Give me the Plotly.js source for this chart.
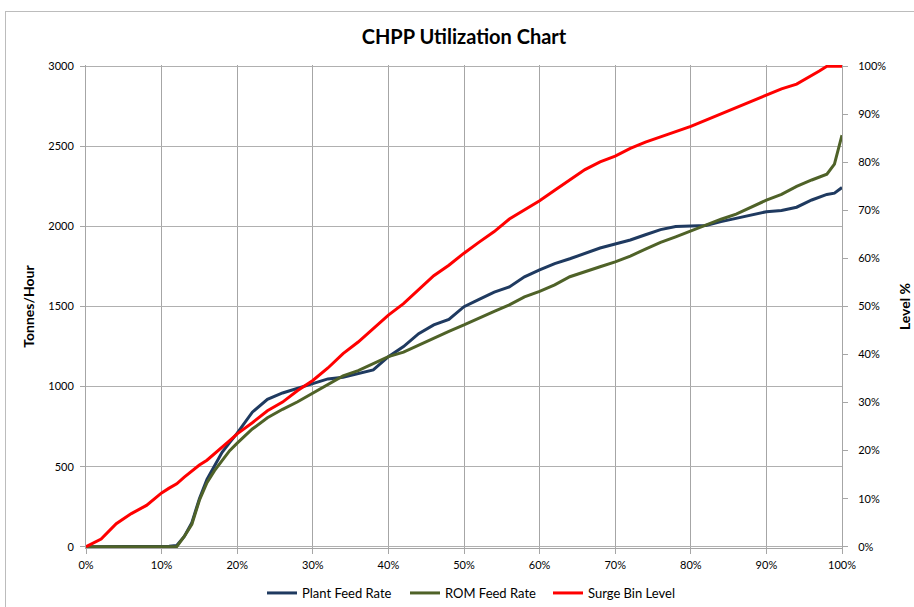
<!DOCTYPE html>
<html>
<head>
<meta charset="utf-8">
<script src="https://cdn.plot.ly/plotly-3.0.1.min.js"></script>
<style>
  html, body { margin: 0; padding: 0; background: #fff; }
  #wrap { position: relative; width: 914px; height: 607px; overflow: hidden; }
  #chart { width: 914px; height: 607px; }
  #frame { position: absolute; left: 5px; top: 11px; width: 940px; height: 640px;
           border-left: 1px solid #bcbcbc; border-top: 1px solid #bcbcbc; pointer-events: none; }
</style>
</head>
<body>
<div id="wrap"><div id="chart"></div><div id="frame"></div></div>
<script>
// Time / duration (% of period)
const timePct = [0,2,4,6,8,10,11,12,13,14,15,16,17,18,19,20,22,24,26,28,30,32,34,36,38,40,42,44,46,48,50,52,54,56,58,60,62,64,66,68,70,72,74,76,78,80,82,84,86,88,90,92,94,96,97,98,99,100];

// Plant Feed Rate (tonnes/hour)
const plantFeedRate = [0,0,0,0,0,0,3,8,64,150,300,420,510,590,650,709,840,920,960,990,1020,1048,1058,1082,1104,1187,1250,1330,1385,1420,1499,1545,1590,1622,1685,1728,1768,1798,1830,1865,1890,1915,1948,1980,2000,2002,2006,2030,2050,2074,2092,2100,2120,2165,2185,2200,2208,2243];

// ROM Feed Rate (tonnes/hour)
const romFeedRate = [0,0,0,0,0,0,0,0,64,140,290,400,475,540,600,647,735,805,858,905,959,1015,1067,1100,1141,1187,1215,1260,1300,1345,1385,1430,1470,1510,1560,1595,1635,1686,1715,1748,1779,1815,1858,1900,1935,1973,2010,2045,2077,2123,2164,2200,2250,2290,2310,2326,2389,2570];

// Surge Bin Level (%)
const surgeBinLevel = [0,1.6,4.8,6.9,8.6,11.2,12.2,13.1,14.5,15.8,17.0,18.0,19.3,20.7,22.1,23.5,25.8,28.3,30.1,32.5,34.6,37.2,40.2,42.6,45.5,48.2,50.6,53.5,56.4,58.6,61.1,63.4,65.6,68.2,70.1,72.0,74.2,76.3,78.5,80.1,81.3,82.9,84.2,85.3,86.4,87.5,88.8,90.1,91.3,92.6,94.0,95.3,96.3,98.0,99.0,100,100,100];

const seriesNames = ['Plant Feed Rate', 'ROM Feed Rate', 'Surge Bin Level'];
const chartTitle = 'CHPP Utilization Chart';
const leftTitle = 'Tonnes/Hour';
const rightTitle = 'Level %';

const FONT = 'Lato, "Open Sans", "DejaVu Sans", sans-serif';

const traces = [
  { x: timePct, y: plantFeedRate, name: seriesNames[0], type: 'scatter', mode: 'lines',
    line: { color: '#1F3A60', width: 3 }, yaxis: 'y' },
  { x: timePct, y: romFeedRate, name: seriesNames[1], type: 'scatter', mode: 'lines',
    line: { color: '#4F6228', width: 3 }, yaxis: 'y' },
  { x: timePct, y: surgeBinLevel, name: seriesNames[2], type: 'scatter', mode: 'lines',
    line: { color: '#FF0000', width: 3 }, yaxis: 'y2' }
];

const layout = {
  width: 914, height: 607,
  paper_bgcolor: '#ffffff', plot_bgcolor: '#ffffff',
  margin: { l: 86, r: 72, t: 64.7, b: 58.7, pad: 0 },
  font: { family: FONT, size: 11, color: '#000000' },
  title: { text: '<b>' + chartTitle + '</b>', font: { family: FONT, size: 20, color: '#000' },
           x: 0.5, xref: 'paper', xanchor: 'center', y: 1 - 37/607, yref: 'container', yanchor: 'middle' },
  showlegend: true,
  legend: { orientation: 'h', x: (262 - 86) / 756, xref: 'paper', xanchor: 'left', y: 14/607, yref: 'container', yanchor: 'middle',
            font: { family: FONT, size: 13, color: '#000' }, itemwidth: 30, entrywidth: 98, entrywidthmode: 'pixels',
            traceorder: 'normal' },
  xaxis: {
    range: [0, 100], dtick: 10, tick0: 0, ticksuffix: '%',
    showgrid: true, gridcolor: '#a6a6a6', gridwidth: 1,
    showline: true, linecolor: '#a6a6a6', linewidth: 1,
    ticks: 'outside', ticklen: 5, tickcolor: '#a6a6a6', ticklabelstandoff: 2,
    zeroline: false, tickfont: { family: FONT, size: 11, color: '#000' }
  },
  yaxis: {
    range: [-8, 3008], dtick: 500, tick0: 0,
    showgrid: true, gridcolor: '#b0b0b0', gridwidth: 1.5,
    showline: true, linecolor: '#a6a6a6', linewidth: 1,
    ticks: 'outside', ticklen: 5, tickcolor: '#a6a6a6', ticklabelstandoff: 4,
    zeroline: false, tickfont: { family: FONT, size: 11, color: '#000' },
    title: { text: '<b>' + leftTitle + '</b>', font: { family: FONT, size: 14, color: '#000' }, standoff: 10 }
  },
  yaxis2: {
    overlaying: 'y', side: 'right',
    range: [-0.2667, 100.2667], dtick: 10, tick0: 0, ticksuffix: '%',
    showgrid: false, showline: true, linecolor: '#a6a6a6', linewidth: 1,
    ticks: 'outside', ticklen: 5, tickcolor: '#a6a6a6', ticklabelstandoff: 8,
    zeroline: false, tickfont: { family: FONT, size: 11, color: '#000' },
    title: { text: '<b>' + rightTitle + '</b>', font: { family: FONT, size: 14, color: '#000' }, standoff: 14 }
  }
};

Plotly.newPlot('chart', traces, layout, { displayModeBar: false, staticPlot: true });
</script>
</body>
</html>
